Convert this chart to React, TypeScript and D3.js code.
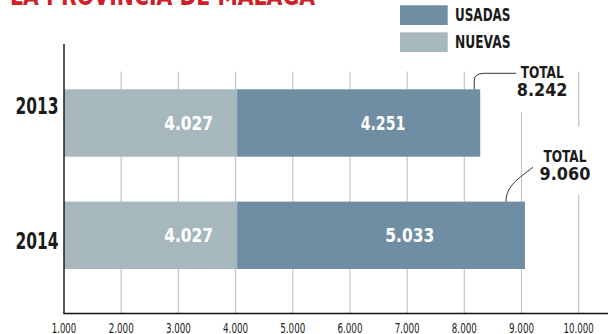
import React from 'react';
import * as d3 from 'd3';

const title = 'LA PROVINCIA DE MÁLAGA';
const years = ['2013', '2014'];
const nuevas = [4027, 4027];
const usadas = [4251, 5033];
const totals = [8242, 9060];
const ticks = [1000, 2000, 3000, 4000, 5000, 6000, 7000, 8000, 9000, 10000];
const seriesNames = ['USADAS', 'NUEVAS'];

const W = 613;
const H = 334;
const C_USADAS = '#6f8ea3';
const C_NUEVAS = '#a7b7be';
const GRID = '#c4c4c4';
const INK = '#1b1b1b';
const COND = '"Liberation Sans Narrow", "DejaVu Sans Condensed", "Roboto Condensed", sans-serif';

const fmt = (v: number) => d3.format(',')(v).replace(/,/g, '.');

// approximate rendered width of numeric strings (condensed face)
const numWidth = (s: string, digit: number, one: number, dot: number) =>
  s.split('').reduce((a, c) => a + (c === '.' ? dot : c === '1' ? one : digit), 0);

// layout per row
const yearDy = [-17, 5];
const totalLabelDx = [40, 16];

export default function App() {
  const x = d3.scaleLinear().domain([1000, 10000]).range([64, 578.7]);
  const y = d3.scaleBand<string>().domain(years).range([89.3, 269]).paddingInner(0.4).paddingOuter(0);
  const bw = y.bandwidth();
  const axisY = 313.5;
  const gridTop = 71.5;

  const rows = years.map((yr, i) => {
    const x0 = x(1000);
    const x1 = x(nuevas[i]);
    const x2 = x(nuevas[i] + usadas[i]);
    return { yr, i, x0, x1, x2, top: y(yr)! };
  });

  return (
    <svg width={W} height={H} style={{ position: 'absolute', left: 0, top: 0, background: '#fff' }}>
      <rect x={0} y={0} width={W} height={H} fill="#fff" />
      {/* title (cut at top) */}
      <text x={10} y={4.5} fill="#cf2027" fontFamily={COND} fontWeight={700} fontSize={26}
        textLength={305} lengthAdjust="spacingAndGlyphs">{title}</text>

      {/* legend */}
      {seriesNames.map((s, i) => (
        <g key={s}>
          <rect x={400} y={5.3 + i * 27} width={47.7} height={19.7} fill={i === 0 ? C_USADAS : C_NUEVAS} />
          <text x={455} y={20.8 + i * 27.5} fill={INK} fontFamily={COND} fontWeight={700} fontSize={18}
            textLength={55.5} lengthAdjust="spacingAndGlyphs">{s}</text>
        </g>
      ))}

      {/* gridlines */}
      {ticks.slice(1).map((t) => (
        <line key={t} x1={x(t)} x2={x(t)} y1={gridTop} y2={axisY} stroke={GRID} strokeWidth={1.2} />
      ))}

      {/* white backgrounds behind total labels */}
      <rect x={512} y={60} width={60} height={52} fill="#fff" />
      <rect x={536} y={127} width={62} height={68} fill="#fff" />

      {/* bars */}
      {rows.map((r) => {
        const a = fmt(nuevas[r.i]);
        const b = fmt(usadas[r.i]);
        return (
          <g key={r.yr}>
            <rect x={r.x0} y={r.top} width={r.x1 - r.x0} height={bw} fill={C_NUEVAS} />
            <rect x={r.x1} y={r.top} width={r.x2 - r.x1} height={bw} fill={C_USADAS} />
            <text x={r.x0 + 0.72 * (r.x1 - r.x0)} y={r.top + bw / 2 + 7} textAnchor="middle" fill="#fff"
              fontFamily={COND} fontWeight={700} fontSize={19.5}
              textLength={numWidth(a, 10.8, 6.5, 5.8)} lengthAdjust="spacingAndGlyphs">{a}</text>
            <text x={r.x1 + 0.6 * (r.x2 - r.x1)} y={r.top + bw / 2 + 7} textAnchor="middle" fill="#fff"
              fontFamily={COND} fontWeight={700} fontSize={19.5}
              textLength={numWidth(b, 10.8, 6.5, 5.8)} lengthAdjust="spacingAndGlyphs">{b}</text>
            <text x={37} y={r.top + bw / 2 + yearDy[r.i] + 8.5} textAnchor="middle" fill={INK}
              fontFamily={COND} fontWeight={700} fontSize={23} textLength={43} lengthAdjust="spacingAndGlyphs">{r.yr}</text>
          </g>
        );
      })}

      {/* total labels + leaders */}
      {rows.map((r) => {
        const cx = x(totals[r.i]) + totalLabelDx[r.i] + 24;
        const top = r.top;
        const labelTop = r.i === 0 ? 65.7 : 149;
        const t = fmt(totals[r.i]);
        return (
          <g key={'t' + r.yr}>
            <text x={cx} y={labelTop + 12.6} textAnchor="middle" fill={INK} fontFamily={COND}
              fontWeight={700} fontSize={16.5} textLength={43} lengthAdjust="spacingAndGlyphs">TOTAL</text>
            <text x={cx} y={labelTop + 30.5} textAnchor="middle" fill={INK} fontFamily={COND}
              fontWeight={700} fontSize={18.5} textLength={numWidth(t, 11.2, 8, 6)} lengthAdjust="spacingAndGlyphs">{t}</text>
            {r.i === 0 ? (
              <path d={`M${r.x2 - 6},${top} L${r.x2 - 6},${81} Q${r.x2 - 6},${73.3} ${r.x2 + 4},${73.3} L${516},${73.3}`}
                fill="none" stroke="#333" strokeWidth={1} />
            ) : (
              <path d={`M${r.x2 - 19},${top} C${r.x2 - 19},${186} ${r.x2 - 6},${178} ${r.x2 + 8},${167.3}`}
                fill="none" stroke="#333" strokeWidth={1} />
            )}
          </g>
        );
      })}

      {/* axes */}
      <line x1={64} x2={64} y1={44} y2={axisY} stroke="#111" strokeWidth={1.4} />
      <line x1={63.3} x2={608} y1={axisY} y2={axisY} stroke="#111" strokeWidth={1.4} />
      {ticks.map((t) => {
        const s = fmt(t);
        return (
          <text key={'l' + t} x={x(t)} y={332.5} textAnchor="middle" fill="#222" fontFamily={COND}
            fontSize={13.5} textLength={numWidth(s, 5.6, 5.2, 2.6)} lengthAdjust="spacingAndGlyphs">{s}</text>
        );
      })}
    </svg>
  );
}
